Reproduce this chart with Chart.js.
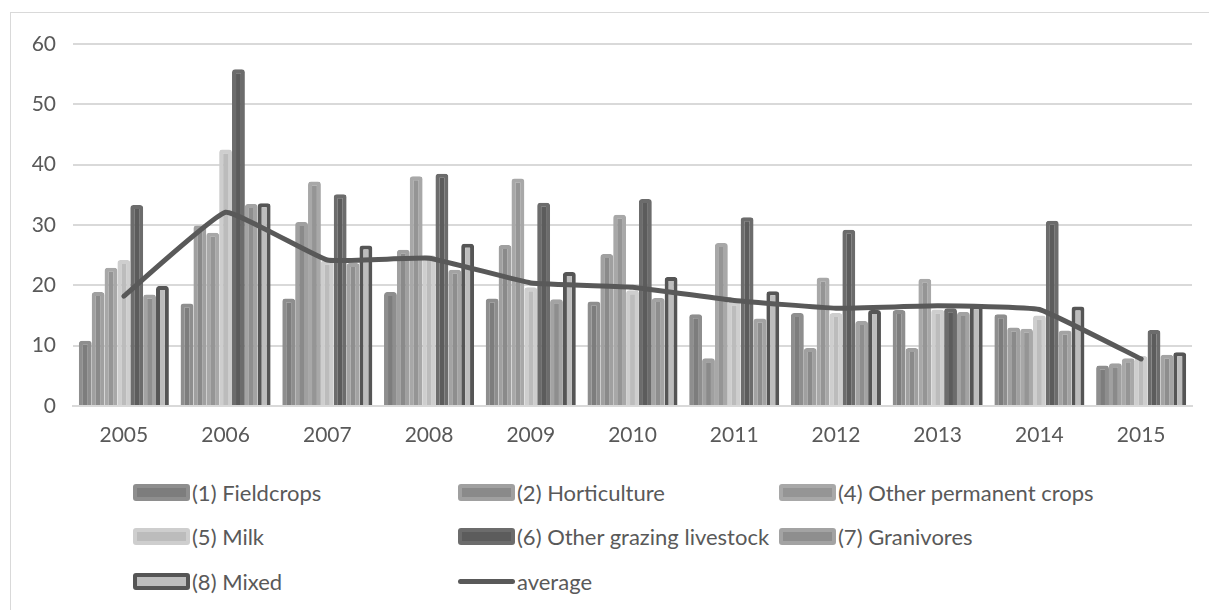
<!DOCTYPE html>
<html>
<head>
<meta charset="utf-8">
<script src="https://cdn.jsdelivr.net/npm/chart.js@4/dist/chart.umd.min.js"></script>
<style>
  body { margin: 0; background: #fff; font-family: Lato, sans-serif; }
  .frame { position: absolute; left: 10px; top: 12px; width: 1210px; height: 610px; border: 1px solid #d9d9d9; }
  .chart-box { position: absolute; left: 0; top: 0; width: 1209px; height: 460px; }
  .legend { position: absolute; left: 133px; top: 479px; display: grid;
            grid-template-columns: 325px 321px 330px; grid-auto-rows: 44.5px; }
  .legend .item { display: flex; align-items: center; height: 26px; color: #595959; font-size: 22px; }
  .legend .sw { width: 57px; height: 17px; box-sizing: border-box; border-radius: 3px; margin-right: 2px; }
  .legend .ln { width: 57px; height: 5px; border-radius: 3px; margin-right: 2px; }
</style>
</head>
<body>
<div class="frame"></div>
<div class="chart-box"><canvas id="myChart"></canvas></div>
<div class="legend" id="legend"></div>
<script>
// data
const years = ["2005","2006","2007","2008","2009","2010","2011","2012","2013","2014","2015"];
const fieldcrops   = [10.8, 17.0, 17.8, 18.9, 17.8, 17.3, 15.2, 15.4, 15.9, 15.2, 6.7];
const horticulture = [18.9, 29.9, 30.5, 25.9, 26.7, 25.2, 7.9, 9.6, 9.6, 13.0, 7.1];
const permCrops    = [22.9, 28.7, 37.2, 38.1, 37.7, 31.7, 27.0, 21.3, 21.1, 12.8, 7.9];
const milk         = [24.2, 42.5, 24.1, 25.0, 19.7, 19.2, 17.3, 15.4, 16.0, 15.0, 8.3];
const grazing      = [33.3, 55.8, 35.1, 38.5, 33.7, 34.3, 31.3, 29.2, 16.2, 30.7, 12.6];
const granivores   = [18.5, 33.5, 23.7, 22.6, 17.7, 17.9, 14.5, 14.1, 15.6, 12.5, 8.5];
const mixed        = [19.9, 33.6, 26.6, 26.9, 22.2, 21.4, 19.0, 15.9, 16.7, 16.5, 8.9];
const average      = [18.2, 32.1, 24.2, 24.5, 20.4, 19.7, 17.5, 16.2, 16.6, 16.0, 7.8];
const yTicks = [0, 10, 20, 30, 40, 50, 60];

function barSet(label, data, fill, border, bw) {
  return {
    type: 'bar', label: label, data: data, order: 1,
    backgroundColor: fill, borderColor: border, borderWidth: bw || 4,
    borderRadius: 3, borderSkipped: 'start',
    barPercentage: 1.0, categoryPercentage: 0.885
  };
}

const ctx = document.getElementById('myChart');

const chart = new Chart(ctx, {
  data: {
    labels: years,
    datasets: [
      barSet("(1) Fieldcrops", fieldcrops, "#7d7d7d", "#8e8e8e"),
      barSet("(2) Horticulture", horticulture, "#8a8a8a", "#a0a0a0"),
      barSet("(4) Other permanent crops", permCrops, "#959595", "#a8a8a8"),
      barSet("(5) Milk", milk, "#bcbcbc", "#cecece"),
      barSet("(6) Other grazing livestock", grazing, "#5c5c5c", "#6c6c6c"),
      barSet("(7) Granivores", granivores, "#8e8e8e", "#a3a3a3"),
      barSet("(8) Mixed", mixed, "#bdbdbd", "#555555", 4),
      {
        type: 'line', label: "average", data: average, order: 0,
        borderColor: "#595959", borderWidth: 5, pointRadius: 0,
        tension: 0.1, fill: false, borderCapStyle: 'round'
      }
    ]
  },
  options: {
    responsive: true,
    maintainAspectRatio: false,
    animation: false,
    layout: { padding: { left: 10, right: 17, top: 44, bottom: 6 } },
    plugins: {
      legend: { display: false },
      tooltip: { enabled: false }
    },
    scales: {
      x: {
        grid: { display: false, drawTicks: false },
        border: { display: true, color: "#d9d9d9", width: 2 },
        ticks: { color: "#595959", font: { family: "Lato", size: 21 }, padding: 17 },
        afterFit: (s) => { s.height = 48; }
      },
      y: {
        min: 0, max: 60,
        afterBuildTicks: (s) => { s.ticks = yTicks.map(v => ({ value: v })); },
        grid: { color: "#d9d9d9", lineWidth: 2, drawTicks: false },
        border: { display: false },
        ticks: { color: "#595959", font: { family: "Lato", size: 21 }, padding: 17 },
        afterFit: (s) => { s.width = 63; }
      }
    }
  }
});

// legend in 3 columns, built from the datasets
const legendEl = document.getElementById('legend');
chart.data.datasets.forEach((ds) => {
  const item = document.createElement('div');
  item.className = 'item';
  const sw = document.createElement('div');
  if (ds.type === 'line') {
    sw.className = 'ln';
    sw.style.background = ds.borderColor;
  } else {
    sw.className = 'sw';
    sw.style.background = ds.backgroundColor;
    sw.style.border = "4px solid " + ds.borderColor;
  }
  const txt = document.createElement('span');
  txt.textContent = ds.label;
  item.appendChild(sw);
  item.appendChild(txt);
  legendEl.appendChild(item);
});
</script>
</body>
</html>
